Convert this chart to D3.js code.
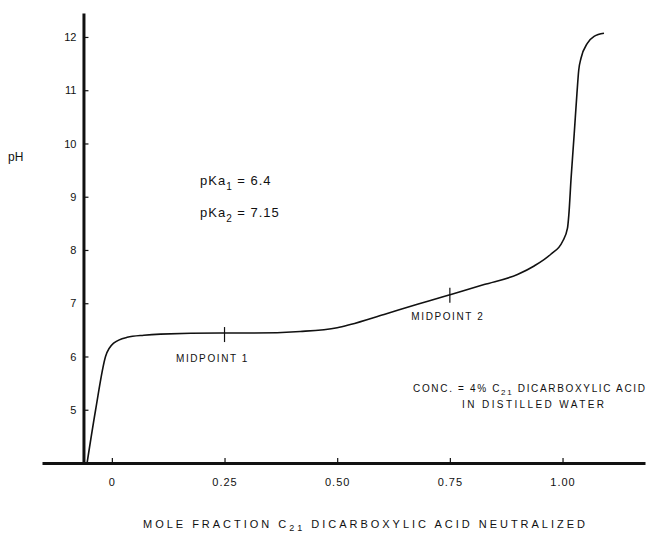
<!DOCTYPE html>
<html>
<head>
<meta charset="utf-8">
<script src="https://d3js.org/d3.v7.min.js"></script>
<style>
  body { margin: 0; background: #fff; }
  text { font-family: "Liberation Sans", Arial, sans-serif; fill: #111; }
  .axis path { stroke: #111; stroke-width: 3px; }
  .axis line { stroke: #111; stroke-width: 1.2px; }
</style>
</head>
<body>
<svg width="652" height="533"></svg>
<script>
// titration curve
var fraction = [-0.055, -0.036, -0.014, 0.004, 0.034, 0.071, 0.108, 0.241, 0.307, 0.418, 0.500, 0.529,
                0.604, 0.678, 0.718, 0.758, 0.826, 0.900, 0.937, 0.974, 1.000, 1.011, 1.014,
                1.019, 1.026, 1.032, 1.036, 1.041, 1.055, 1.070, 1.092];
var ph = [4.0, 5.0, 6.0, 6.25, 6.36, 6.40, 6.42, 6.44, 6.44, 6.47, 6.54, 6.60,
          6.79, 6.98, 7.08, 7.18, 7.35, 7.54, 7.70, 7.92, 8.16, 8.41, 8.66,
          9.35, 10.19, 10.94, 11.38, 11.60, 11.88, 12.01, 12.07];

var yTicks = [5, 6, 7, 8, 9, 10, 11, 12];
var xTicks = [0, 0.25, 0.5, 0.75, 1];
var xTickLabels = ["0", "0.25", "0.50", "0.75", "1.00"];

var midFraction = [0.25, 0.75];
var midPh = [6.44, 7.18];
var midLabels = ["MIDPOINT 1", "MIDPOINT 2"];

var svg = d3.select("svg");

var x = d3.scaleLinear().domain([-0.155, 1.183]).range([42, 645]);
var y = d3.scaleLinear().domain([4, 12.45]).range([463, 13]);
var yAxisAt = -0.063;

// x axis
var xAxis = svg.append("g")
    .attr("class", "axis")
    .attr("transform", "translate(0," + y(4) + ")")
    .call(d3.axisBottom(x).tickValues(xTicks)
      .tickFormat(function(d, i) { return xTickLabels[i]; })
      .tickSizeInner(-5).tickSizeOuter(0).tickPadding(15));
xAxis.selectAll("text").attr("font-size", 11).attr("letter-spacing", 1)
    .attr("font-family", "Liberation Sans, Arial, sans-serif").attr("fill", "#111");

// y axis
var yAxis = svg.append("g")
    .attr("class", "axis")
    .attr("transform", "translate(" + x(yAxisAt) + ",0)")
    .call(d3.axisLeft(y).tickValues(yTicks)
      .tickSizeInner(-5).tickSizeOuter(0).tickPadding(7));
yAxis.selectAll("text").attr("font-size", 11)
    .attr("font-family", "Liberation Sans, Arial, sans-serif").attr("fill", "#111");

// curve
var pts = fraction.map(function(f, i) { return [f, ph[i]]; });
var line = d3.line()
    .x(function(d) { return x(d[0]); })
    .y(function(d) { return y(d[1]); })
    .curve(d3.curveMonotoneX);

svg.append("path")
    .datum(pts)
    .attr("d", line)
    .attr("fill", "none")
    .attr("stroke", "#111")
    .attr("stroke-width", 1.6);

// midpoint marks
midFraction.forEach(function(f, i) {
  var cx = x(f), cy = y(midPh[i]);
  svg.append("line")
      .attr("x1", cx).attr("x2", cx)
      .attr("y1", cy - 6).attr("y2", cy + 9)
      .attr("stroke", "#111").attr("stroke-width", 1.2);
  svg.append("text")
      .attr("x", cx + (i == 0 ? -12 : -2))
      .attr("y", cy + (i == 0 ? 29 : 26))
      .attr("text-anchor", "middle")
      .attr("font-size", 10)
      .attr("letter-spacing", 1.6)
      .text(midLabels[i]);
});

// pH label
svg.append("text")
    .attr("x", 8).attr("y", 161)
    .attr("font-size", 12)
    .text("pH");

// pKa values
var pk = svg.append("g").attr("font-size", 13);
var t1 = pk.append("text").attr("x", 200).attr("y", 185).attr("letter-spacing", 1);
t1.append("tspan").text("pKa");
t1.append("tspan").attr("font-size", 10).attr("dy", 5).text("1");
t1.append("tspan").attr("dy", -5).text("  =  6.4");
var t2 = pk.append("text").attr("x", 200).attr("y", 217).attr("letter-spacing", 1);
t2.append("tspan").text("pKa");
t2.append("tspan").attr("font-size", 10).attr("dy", 5).text("2");
t2.append("tspan").attr("dy", -5).text("  =  7.15");

// concentration note
var c1 = svg.append("text").attr("x", 413).attr("y", 392).attr("font-size", 10)
    .attr("textLength", 232).attr("lengthAdjust", "spacing");
c1.append("tspan").text("CONC. = 4%   C");
c1.append("tspan").attr("font-size", 8).attr("dy", 3).text("21");
c1.append("tspan").attr("dy", -3).text("  DICARBOXYLIC  ACID");
svg.append("text").attr("x", 462).attr("y", 408).attr("font-size", 10)
    .attr("textLength", 142).attr("lengthAdjust", "spacing")
    .text("IN  DISTILLED  WATER");

// x axis title
var tt = svg.append("text").attr("x", 143).attr("y", 528).attr("font-size", 11)
    .attr("textLength", 442).attr("lengthAdjust", "spacing");
tt.append("tspan").text("MOLE  FRACTION   C");
tt.append("tspan").attr("font-size", 9).attr("dy", 3).text("21");
tt.append("tspan").attr("dy", -3).text(" DICARBOXYLIC  ACID  NEUTRALIZED");
</script>
</body>
</html>
